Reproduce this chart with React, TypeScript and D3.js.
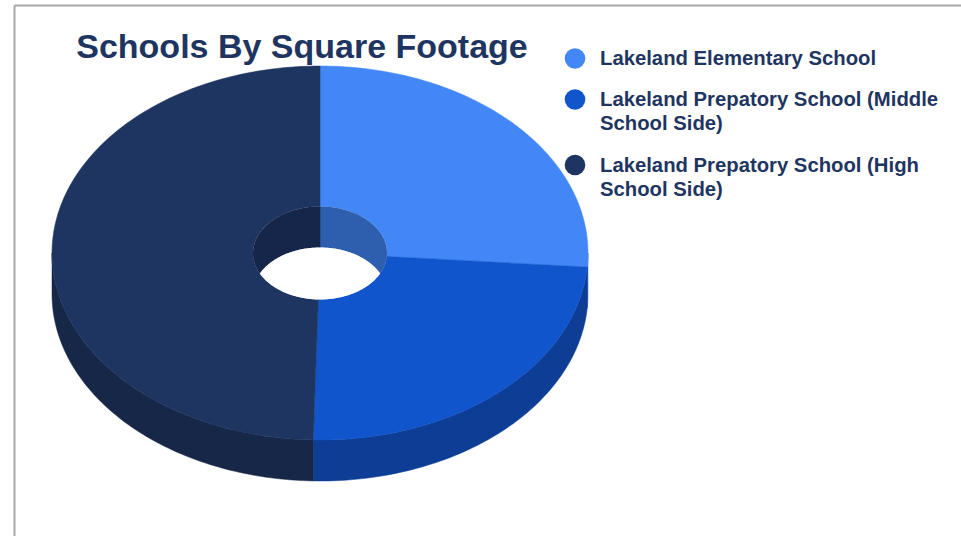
import React from "react";
import * as d3 from "d3";

const categories = [
  "Lakeland Elementary School",
  "Lakeland Prepatory School (Middle School Side)",
  "Lakeland Prepatory School (High School Side)",
];
const legendLines = [
  ["Lakeland Elementary School"],
  ["Lakeland Prepatory School (Middle", "School Side)"],
  ["Lakeland Prepatory School (High", "School Side)"],
];
const values = [26.2, 24.2, 49.6];
const topColors = ["#4287f5", "#1155cc", "#1f3561"];
const sideColors = ["#2d63c4", "#0d3d94", "#172748"];
const wallColors = ["#2e5fae", "#0d3d94", "#16264a"];
const title = "Schools By Square Footage";

const W = 961;
const H = 536;
const cx = 320;
const cy = 253;
const rx = 268;
const ry = 187;
const irx = 67;
const iry = 46.5;
const depth = 41;

function pt(t: number, a: number, b: number, dy = 0): [number, number] {
  return [cx + a * Math.sin(t), cy - b * Math.cos(t) + dy];
}
function arcPts(t1: number, t2: number, a: number, b: number, dy = 0) {
  const n = Math.max(2, Math.ceil(Math.abs(t2 - t1) / 0.02));
  return d3.range(n + 1).map((i) => pt(t1 + ((t2 - t1) * i) / n, a, b, dy));
}
const line = d3.line();

function intersect(t1: number, t2: number, lo: number, hi: number): [number, number] | null {
  const a = Math.max(t1, lo);
  const b = Math.min(t2, hi);
  return b > a ? [a, b] : null;
}

export default function App() {
  const pie = d3.pie<number>().sort(null).value((d) => d);
  const arcs = pie(values);

  const ellipsePath = (a: number, b: number, dy = 0) =>
    line(arcPts(0, 2 * Math.PI, a, b, dy)) + "Z";

  const sides: { d: string; c: string }[] = [];
  const tops: { d: string; c: string }[] = [];
  const walls: { d: string; c: string }[] = [];
  arcs.forEach((s, i) => {
    const t1 = s.startAngle;
    const t2 = s.endAngle;
    tops.push({
      d: line([...arcPts(t1, t2, rx, ry), ...arcPts(t2, t1, irx, iry)]) + "Z",
      c: topColors[i],
    });
    const f = intersect(t1, t2, Math.PI / 2, (3 * Math.PI) / 2);
    if (f) {
      sides.push({
        d: line([...arcPts(f[0], f[1], rx, ry), ...arcPts(f[1], f[0], rx, ry, depth)]) + "Z",
        c: sideColors[i],
      });
    }
    const ranges = [
      intersect(t1, t2, -Math.PI / 2, Math.PI / 2),
      intersect(t1, t2, (3 * Math.PI) / 2, 2.5 * Math.PI),
    ];
    ranges.forEach((r) => {
      if (r) {
        walls.push({
          d: line([...arcPts(r[0], r[1], irx, iry), ...arcPts(r[1], r[0], irx, iry, depth)]) + "Z",
          c: wallColors[i],
        });
      }
    });
  });

  const font = "'Liberation Sans', Arial, sans-serif";
  const legendY = [58.5, 99.5, 165];
  const textColor = "#1f3561";

  return (
    <svg
      width={W}
      height={H}
      style={{ position: "absolute", left: 0, top: 0, background: "#fff" }}
    >
      <defs>
        <clipPath id="holeClip">
          <path d={ellipsePath(irx, iry)} />
        </clipPath>
      </defs>
      <line x1={14.5} y1={5.5} x2={W} y2={5.5} stroke="#a8a8a8" strokeWidth={2} />
      <line x1={14.5} y1={5.5} x2={14.5} y2={H} stroke="#a8a8a8" strokeWidth={2} />

      {sides.map((s, i) => (
        <path key={"s" + i} d={s.d} fill={s.c} stroke={s.c} strokeWidth={0.5} />
      ))}
      {tops.map((s, i) => (
        <path key={"t" + i} d={s.d} fill={s.c} stroke={s.c} strokeWidth={0.5} />
      ))}
      <g clipPath="url(#holeClip)">
        {walls.map((s, i) => (
          <path key={"w" + i} d={s.d} fill={s.c} stroke={s.c} strokeWidth={0.5} />
        ))}
        <path d={ellipsePath(irx, iry, depth)} fill="#fff" />
      </g>

      <text
        x={302}
        y={58}
        textAnchor="middle"
        fontFamily={font}
        fontWeight="bold"
        fontSize={34}
        fill={textColor}
      >
        {title}
      </text>

      {categories.map((c, i) => (
        <g key={c}>
          <circle cx={575} cy={legendY[i]} r={10.3} fill={topColors[i]} />
          <text
            x={600}
            y={legendY[i] + 6.7}
            fontFamily={font}
            fontWeight="bold"
            fontSize={20.3}
            fill={textColor}
          >
            {legendLines[i].map((l, j) => (
              <tspan key={j} x={600} dy={j === 0 ? 0 : 24}>
                {l}
              </tspan>
            ))}
          </text>
        </g>
      ))}
    </svg>
  );
}
